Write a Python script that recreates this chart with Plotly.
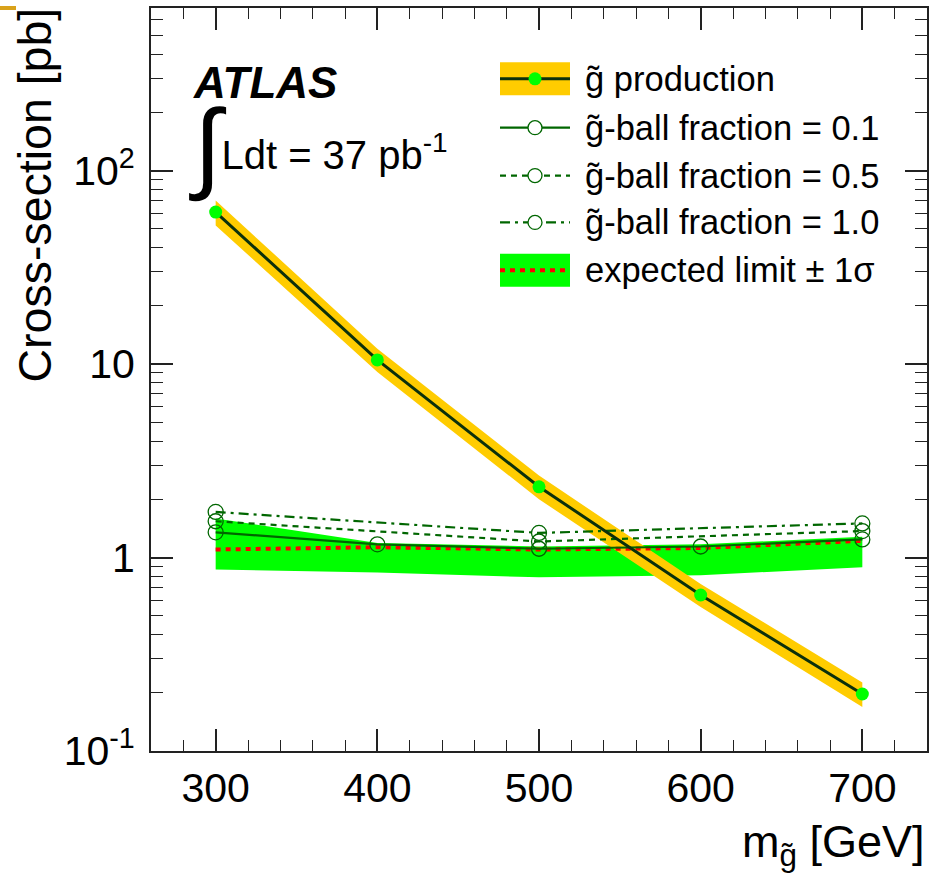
import plotly.graph_objects as go

# Gluino mass points [GeV]
mass = [300, 400, 500, 600, 700]

# Gluino pair-production cross-section [pb] with theory band
xsec = [61.0, 10.5, 2.32, 0.64, 0.197]
xsec_up = [70.0, 12.0, 2.65, 0.73, 0.226]
xsec_dn = [52.0, 9.1, 2.0, 0.555, 0.169]

# Expected 95% CL limit and its +-1 sigma band [pb]
exp_limit = [1.10, 1.13, 1.10, 1.12, 1.22]
exp_up = [1.59, 1.19, 1.14, 1.17, 1.28]
exp_dn = [0.867, 0.837, 0.79, 0.81, 0.89]

# Observed limits for different gluino-ball fractions [pb]
frac01 = [1.35, 1.17, 1.11, 1.14, 1.24]
mass_frac = [300, 500, 700]
frac05 = [1.54, 1.21, 1.37]
frac10 = [1.72, 1.34, 1.50]

legend_labels = [
    "g\u0303 production",
    "g\u0303-ball fraction = 0.1",
    "g\u0303-ball fraction = 0.5",
    "g\u0303-ball fraction = 1.0",
    "expected limit \u00b1 1\u03c3",
]

y_tickvals = [0.1, 1, 10, 100]
y_ticktext = ["10<sup>-1</sup>", "1", "10", "10<sup>2</sup>"]

W, H = 949, 883
L, R, T, B = 151, 22, 6, 132
PW, PH = W - L - R, H - T - B

FONT = "Liberation Sans, Arial, Helvetica, sans-serif"
YELLOW = "#FFCC00"
BRIGHT = "#00FF00"
DARK = "#0B300B"
FGREEN = "#006600"
RED = "#FF0000"


def px(x):
    return (x - L) / PW


def py(y):
    return (H - B - y) / PH


fig = go.Figure()

# expected limit band
fig.add_trace(go.Scatter(x=mass, y=exp_dn, mode="lines", line=dict(width=0),
                         showlegend=False, hoverinfo="skip"))
fig.add_trace(go.Scatter(x=mass, y=exp_up, mode="lines", line=dict(width=0),
                         fill="tonexty", fillcolor=BRIGHT, showlegend=False))

# cross-section uncertainty band
fig.add_trace(go.Scatter(x=mass, y=xsec_dn, mode="lines", line=dict(width=0),
                         showlegend=False, hoverinfo="skip"))
fig.add_trace(go.Scatter(x=mass, y=xsec_up, mode="lines", line=dict(width=0),
                         fill="tonexty", fillcolor=YELLOW, showlegend=False))

# expected limit
fig.add_trace(go.Scatter(x=mass, y=exp_limit, mode="lines",
                         line=dict(color=RED, width=4, dash="5px,5px"),
                         showlegend=False))

# observed limits for the gluino-ball fractions
circ = dict(symbol="circle-open", size=15, color=FGREEN, line=dict(width=1.3, color=FGREEN))
fig.add_trace(go.Scatter(x=mass, y=frac01, mode="lines+markers",
                         line=dict(color=FGREEN, width=2.2), marker=circ, showlegend=False))
fig.add_trace(go.Scatter(x=mass_frac, y=frac05, mode="lines+markers",
                         line=dict(color=FGREEN, width=2.2, dash="6px,5px"), marker=circ,
                         showlegend=False))
fig.add_trace(go.Scatter(x=mass_frac, y=frac10, mode="lines+markers",
                         line=dict(color=FGREEN, width=2.2, dash="10px,5px,3px,5px"),
                         marker=circ, showlegend=False))

# production cross-section
fig.add_trace(go.Scatter(x=mass, y=xsec, mode="lines+markers",
                         line=dict(color=DARK, width=3),
                         marker=dict(size=13, color=BRIGHT, line=dict(width=0)),
                         showlegend=False))

shapes = []
annotations = []

# hand-drawn legend block
lx0, lx1 = 500, 570
lxc = 535
row_y = [77, 126, 174, 221, 269]
box_h = 33

shapes.append(dict(type="rect", xref="paper", yref="paper",
                   x0=px(lx0), x1=px(lx1), y0=py(row_y[0] + box_h / 2), y1=py(row_y[0] - box_h / 2),
                   fillcolor=YELLOW, line=dict(width=0), layer="above"))
shapes.append(dict(type="line", xref="paper", yref="paper",
                   x0=px(lx0), x1=px(lx1), y0=py(row_y[0]), y1=py(row_y[0]),
                   line=dict(color=DARK, width=3), layer="above"))
shapes.append(dict(type="circle", xref="paper", yref="paper", xsizemode="pixel", ysizemode="pixel",
                   xanchor=px(lxc), yanchor=py(row_y[0]), x0=-6.5, x1=6.5, y0=-6.5, y1=6.5,
                   fillcolor=BRIGHT, line=dict(width=0), layer="above"))

for yy, dash in zip(row_y[1:4], ["solid", "6px,5px", "10px,5px,3px,5px"]):
    shapes.append(dict(type="line", xref="paper", yref="paper",
                       x0=px(lx0), x1=px(lx1), y0=py(yy), y1=py(yy),
                       line=dict(color=FGREEN, width=2.2, dash=dash), layer="above"))
    shapes.append(dict(type="circle", xref="paper", yref="paper", xsizemode="pixel", ysizemode="pixel",
                       xanchor=px(lxc), yanchor=py(yy), x0=-7, x1=7, y0=-7, y1=7,
                       fillcolor="white", line=dict(width=1.3, color=FGREEN), layer="above"))

shapes.append(dict(type="rect", xref="paper", yref="paper",
                   x0=px(lx0), x1=px(lx1), y0=py(row_y[4] + box_h / 2), y1=py(row_y[4] - box_h / 2),
                   fillcolor=BRIGHT, line=dict(width=0), layer="above"))
shapes.append(dict(type="line", xref="paper", yref="paper",
                   x0=px(lx0), x1=px(lx1), y0=py(row_y[4]), y1=py(row_y[4]),
                   line=dict(color=RED, width=4, dash="5px,5px"), layer="above"))

for yy, label in zip(row_y, legend_labels):
    annotations.append(dict(text=label, xref="paper", yref="paper", x=px(583), y=py(yy),
                            xanchor="left", yanchor="middle", showarrow=False,
                            font=dict(family=FONT, size=34.5, color="black")))

# experiment label and integrated luminosity as one two-line block;
# the integral sign is lowered a little below the text baseline
atlas_block = (
    "<span style='font-size:44px'><b><i>ATLAS</i></b></span><br>"
    "<sub><span style='font-size:100px'>\u222b</span></sub>"
    "<span style='font-size:40px'>Ldt = 37 pb<sup>-1</sup></span>"
)
annotations.append(dict(text=atlas_block, xref="paper", yref="paper",
                        x=px(187), y=py(54), xanchor="left", yanchor="top", align="left",
                        showarrow=False, font=dict(family=FONT, size=54.6, color="black")))

# axis titles
annotations.append(dict(text="Cross-section [pb]", xref="paper", yref="paper",
                        x=px(35), y=py(4), xanchor="center", yanchor="top", textangle=-90,
                        showarrow=False, font=dict(family=FONT, size=46.5, color="black")))
annotations.append(dict(text="m<sub>g\u0303</sub> [GeV]", xref="paper", yref="paper",
                        x=px(927), y=py(845), xanchor="right", yanchor="middle",
                        showarrow=False, font=dict(family=FONT, size=45, color="black")))

# small mark in the upper-left corner
shapes.append(dict(type="rect", xref="paper", yref="paper",
                   x0=px(0), x1=px(16), y0=py(8), y1=py(4),
                   fillcolor="#D9A21B", line=dict(width=0)))

fig.update_layout(
    width=W, height=H,
    margin=dict(l=L, r=R, t=T, b=B),
    paper_bgcolor="white", plot_bgcolor="white",
    shapes=shapes, annotations=annotations,
    showlegend=False,
    font=dict(family=FONT, color="black"),
)

fig.update_xaxes(
    range=[260, 740], showgrid=False, zeroline=False,
    showline=True, linecolor="#222222", linewidth=2, mirror="ticks",
    ticks="inside", ticklen=22, tickwidth=1.6, tickcolor="#222222",
    dtick=100, tick0=0,
    tickfont=dict(family=FONT, size=41, color="black"),
    minor=dict(ticks="inside", ticklen=11, tickwidth=1.4, tickcolor="#222222", dtick=20, showgrid=False),
)
fig.update_yaxes(
    type="log", range=[-1, 2.84], showgrid=False, zeroline=False,
    showline=True, linecolor="#222222", linewidth=2, mirror="ticks",
    ticks="inside", ticklen=22, tickwidth=1.6, tickcolor="#222222",
    tickvals=y_tickvals, ticktext=y_ticktext, ticklabelstandoff=6,
    tickfont=dict(family=FONT, size=41, color="black"),
    minor=dict(ticks="inside", ticklen=12, tickwidth=1.4, tickcolor="#222222", dtick="D1", showgrid=False),
)

fig.write_html("out.html")
